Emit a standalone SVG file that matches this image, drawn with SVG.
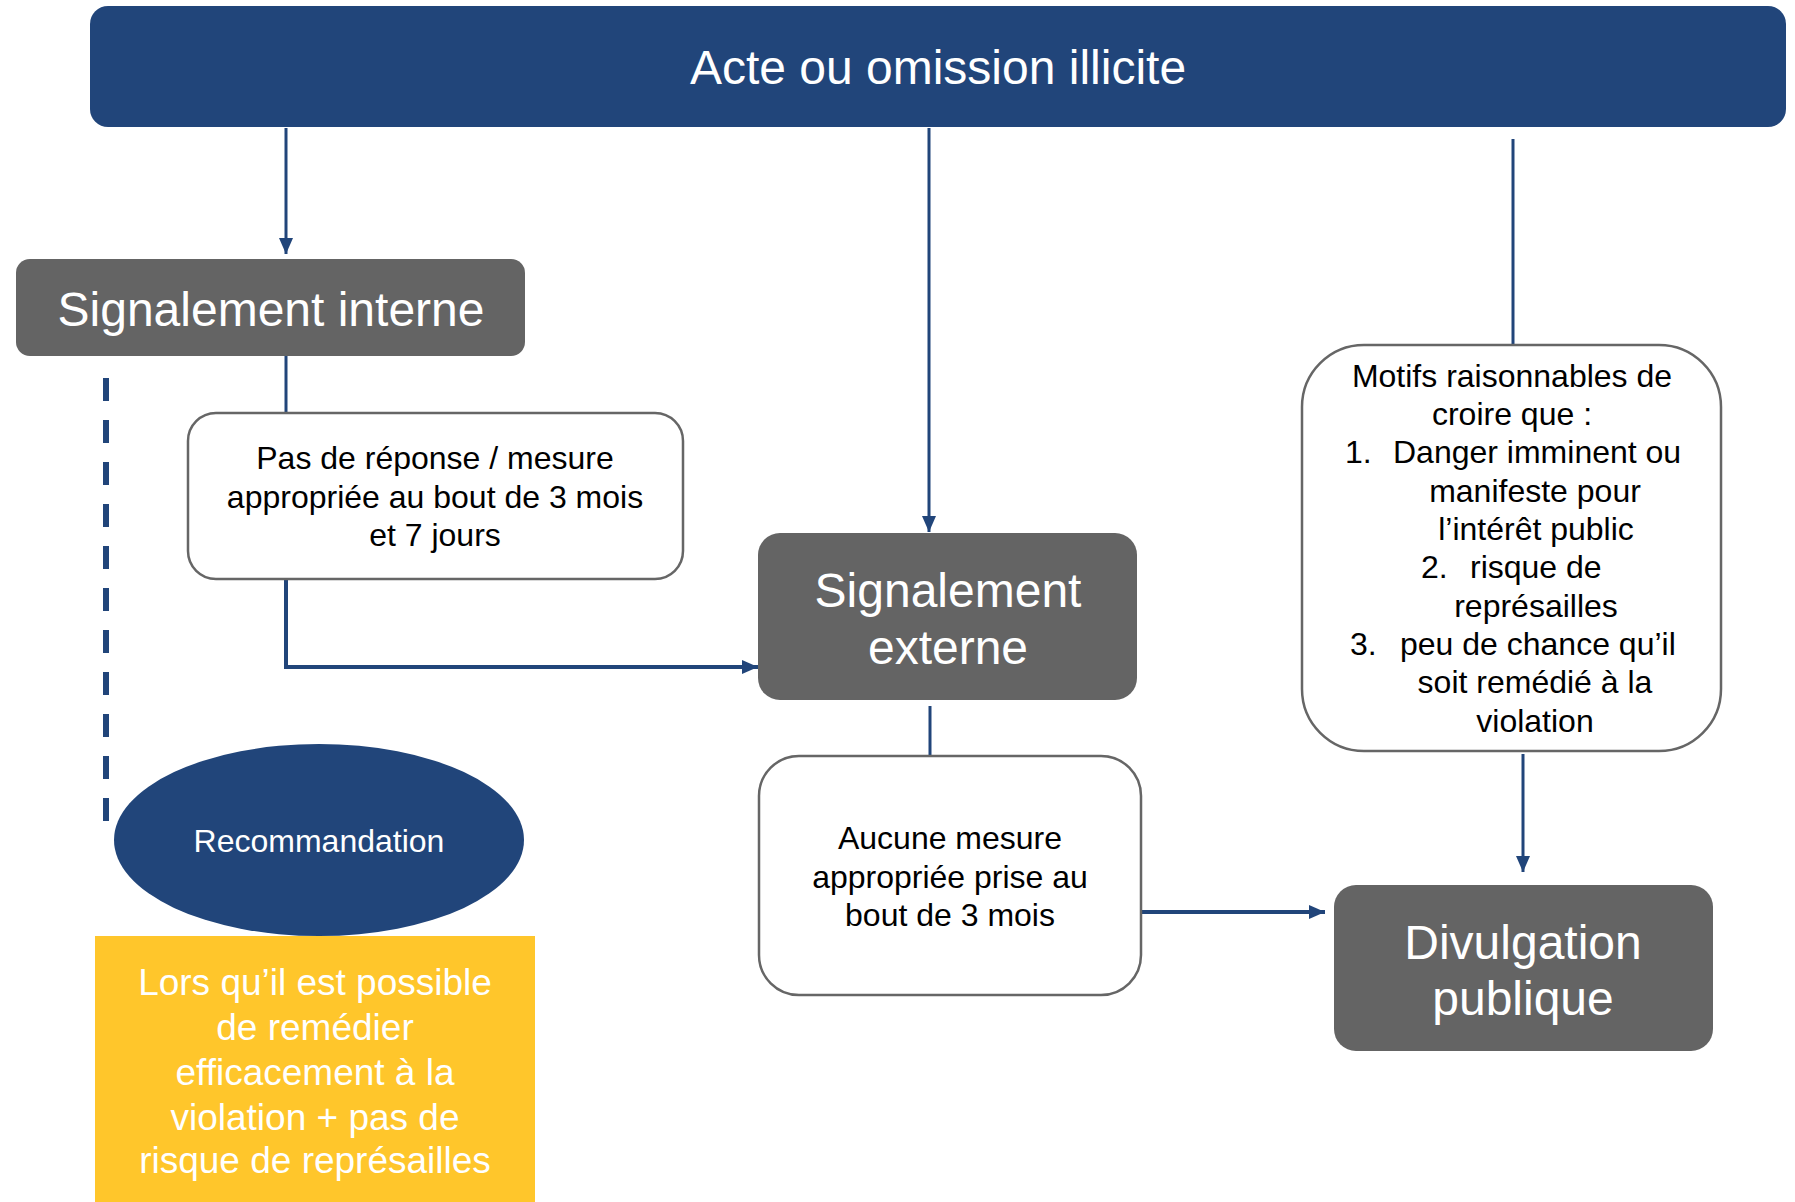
<svg xmlns="http://www.w3.org/2000/svg" width="1795" height="1202" viewBox="0 0 1795 1202">
<defs>
<marker id="arr" markerUnits="userSpaceOnUse" markerWidth="17" markerHeight="14" refX="16" refY="7" orient="auto">
<path d="M0,0 L16,7 L0,14 Z" fill="#21457A"/>
</marker>
<style>
text{font-family:"Liberation Sans",Arial,sans-serif}
.conn{stroke:#21457A;stroke-width:3;fill:none}
.thick{stroke-width:4}
.gray{fill:#646464}
.white{fill:#fff;stroke:#666;stroke-width:2.5}
.big{font-size:48px;fill:#fff;text-anchor:middle}
.mid{font-size:32px;fill:#000;text-anchor:middle}
.lst{font-size:32px;fill:#000}
</style>
</defs>
<rect width="1795" height="1202" fill="#fff"/>
<g id="connectors">
<line class="conn" x1="286" y1="128" x2="286" y2="254" marker-end="url(#arr)"/>
<line class="conn" x1="286" y1="356" x2="286" y2="413"/>
<path class="conn thick" d="M286,579 V667 H758" marker-end="url(#arr)"/>
<line class="conn" x1="929" y1="128" x2="929" y2="532" marker-end="url(#arr)"/>
<line class="conn" x1="930" y1="706" x2="930" y2="756"/>
<line class="conn thick" x1="1142" y1="912" x2="1325" y2="912" marker-end="url(#arr)"/>
<line class="conn" x1="1513" y1="139" x2="1513" y2="344"/>
<line class="conn" x1="1523" y1="754" x2="1523" y2="872" marker-end="url(#arr)"/>
<line x1="106" y1="378" x2="106" y2="822" stroke="#21457A" stroke-width="6" stroke-dasharray="23 19"/>
</g>
<g id="acte">
<rect x="90" y="6" width="1696" height="121" rx="18" fill="#21457A"/>
<text class="big" x="938" y="84">Acte ou omission illicite</text>
</g>
<g id="signalement-interne">
<rect class="gray" x="16" y="259" width="509" height="97" rx="14"/>
<text class="big" x="271" y="326">Signalement interne</text>
</g>
<g id="pas-de-reponse">
<rect class="white" x="188" y="413" width="495" height="166" rx="28"/>
<text class="mid" x="435" y="469">Pas de réponse / mesure</text>
<text class="mid" x="435" y="508">appropriée au bout de 3 mois</text>
<text class="mid" x="435" y="546">et 7 jours</text>
</g>
<g id="signalement-externe">
<rect class="gray" x="758" y="533" width="379" height="167" rx="22"/>
<text class="big" x="948" y="607">Signalement</text>
<text class="big" x="948" y="664">externe</text>
</g>
<g id="aucune-mesure">
<rect class="white" x="759" y="756" width="382" height="239" rx="40"/>
<text class="mid" x="950" y="849">Aucune mesure</text>
<text class="mid" x="950" y="888">appropriée prise au</text>
<text class="mid" x="950" y="926">bout de 3 mois</text>
</g>
<g id="motifs">
<rect class="white" x="1302" y="345" width="419" height="406" rx="62"/>
<text class="mid" x="1512" y="387">Motifs raisonnables de</text>
<text class="mid" x="1512" y="425">croire que :</text>
<text class="lst" x="1345" y="463">1.</text>
<text class="lst" x="1393" y="463">Danger imminent ou</text>
<text class="mid" x="1535" y="502">manifeste pour</text>
<text class="mid" x="1536" y="540">l’intérêt public</text>
<text class="lst" x="1421" y="578">2.</text>
<text class="lst" x="1470" y="578">risque de</text>
<text class="mid" x="1536" y="617">représailles</text>
<text class="lst" x="1350" y="655">3.</text>
<text class="lst" x="1400" y="655">peu de chance qu’il</text>
<text class="mid" x="1535" y="693">soit remédié à la</text>
<text class="mid" x="1535" y="732">violation</text>
</g>
<g id="divulgation">
<rect class="gray" x="1334" y="885" width="379" height="166" rx="22"/>
<text class="big" x="1523" y="959">Divulgation</text>
<text class="big" x="1523" y="1015">publique</text>
</g>
<g id="recommandation">
<ellipse cx="319" cy="840" rx="205" ry="96" fill="#21457A"/>
<text x="319" y="852" font-size="32" fill="#fff" text-anchor="middle">Recommandation</text>
</g>
<g id="condition">
<rect x="95" y="936" width="440" height="266" fill="#FFC62B"/>
<g font-size="37" fill="#fff" text-anchor="middle">
<text x="315" y="995">Lors qu’il est possible</text>
<text x="315" y="1040">de remédier</text>
<text x="315" y="1085">efficacement à la</text>
<text x="315" y="1130">violation + pas de</text>
<text x="315" y="1173">risque de représailles</text>
</g>
</g>
</svg>
